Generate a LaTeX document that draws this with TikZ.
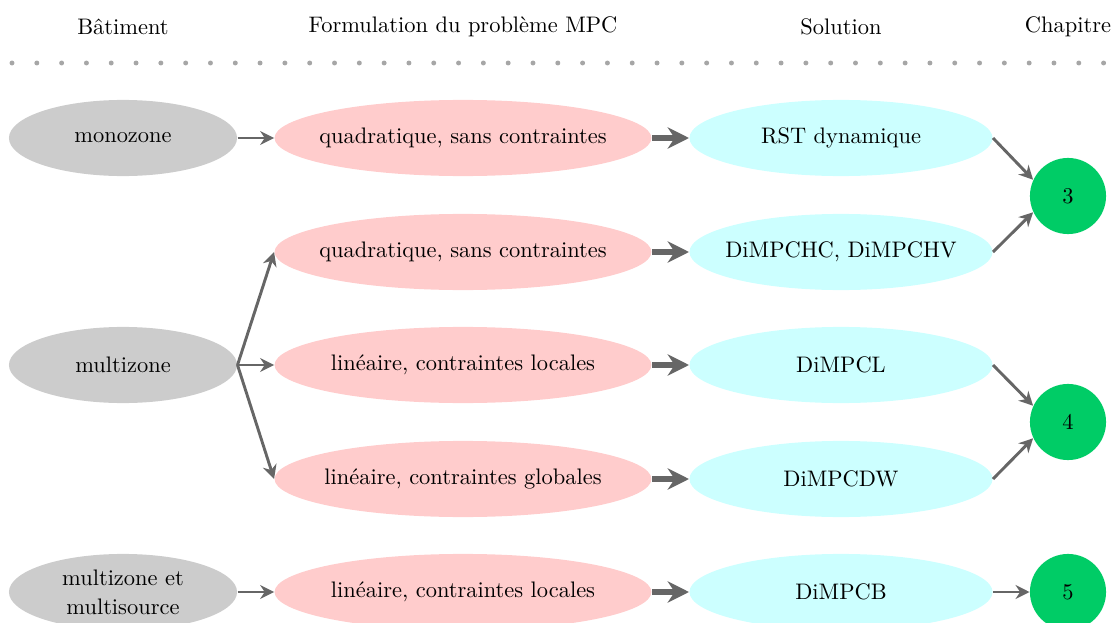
\documentclass[tikz,border=0pt]{standalone}
\usepackage{fontspec}
\usepackage{xcolor}
\usepackage{tikz}
\usetikzlibrary{shapes.geometric, arrows.meta}

\definecolor{vert}{RGB}{0,204,102}
\definecolor{fleche}{RGB}{102,102,102}
\definecolor{rose}{RGB}{255,204,204}
\definecolor{bleu}{RGB}{204,255,255}

\tikzset{
    batiment/.style={ellipse, fill=black!20, minimum width=101.6pt, minimum height=33.9pt, inner xsep=-20pt, inner ysep=0pt, align=center},
    formul/.style={ellipse, fill=rose, minimum width=167.9pt, minimum height=33.9pt, inner xsep=-30pt, inner ysep=0pt},
    solution/.style={ellipse, fill=bleu, minimum width=135pt, minimum height=33.9pt, inner xsep=-30pt, inner ysep=0pt},
    chapitre/.style={circle, fill=vert, minimum size=33.9pt, inner sep=0pt},
    fin/.style={-{Stealth[length=6.2pt, width=6.2pt]}, line width=1.3pt, fleche},
    gros/.style={-{Stealth[length=9.5pt, width=9.5pt]}, line width=3pt, fleche}
}

\begin{document}
\begin{tikzpicture}[>=stealth, x=0.4454pt, y=-0.4454pt]
    \useasboundingbox (0,0) rectangle (1114,623);

    % En-tetes
    \node (h1) at (123,27) {Bâtiment};
    \node (h2) at (463,27) {Formulation du problème MPC};
    \node (h3) at (841,27) {Solution};
    \node (h4) at (1068,27) {Chapitre};
    \draw[black!35, line width=2.2pt, line cap=round, dash pattern=on 0pt off 11.05pt] (12,63) -- (1110,63);

    % Batiments
    \node[batiment] (b1) at (123,138) {monozone};
    \node[batiment] (b2) at (123,365) {multizone};
    \node[batiment] (b3) at (123,592) {multizone et\\[1pt]multisource};

    % Formulations
    \node[formul] (f1) at (463,138) {quadratique, sans contraintes};
    \node[formul] (f2) at (463,252) {quadratique, sans contraintes};
    \node[formul] (f3) at (463,365) {linéaire, contraintes locales};
    \node[formul] (f4) at (463,479) {linéaire, contraintes globales};
    \node[formul] (f5) at (463,592) {linéaire, contraintes locales};

    % Solutions
    \node[solution] (s1) at (841,138) {RST dynamique};
    \node[solution] (s2) at (841,252) {DiMPCHC, DiMPCHV};
    \node[solution] (s3) at (841,365) {DiMPCL};
    \node[solution] (s4) at (841,479) {DiMPCDW};
    \node[solution] (s5) at (841,592) {DiMPCB};

    % Chapitres
    \node[chapitre] (c3) at (1068,196) {3};
    \node[chapitre] (c4) at (1068,422) {4};
    \node[chapitre] (c5) at (1068,592) {5};

    % Fleches
    \draw[fin] (b1.east) -- (f1.west);
    \draw[fin] (b2.east) -- (f2.west);
    \draw[fin] (b2.east) -- (f3.west);
    \draw[fin] (b2.east) -- (f4.west);
    \draw[fin] (b3.east) -- (f5.west);

    \foreach \i in {1,...,5}
        \draw[gros] (f\i.east) -- (s\i.west);

    \draw[fin] (s1.east) -- (c3.155);
    \draw[fin] (s2.east) -- (c3.205);
    \draw[fin] (s3.east) -- (c4.155);
    \draw[fin] (s4.east) -- (c4.205);
    \draw[fin] (s5.east) -- (c5);

\end{tikzpicture}
\end{document}
